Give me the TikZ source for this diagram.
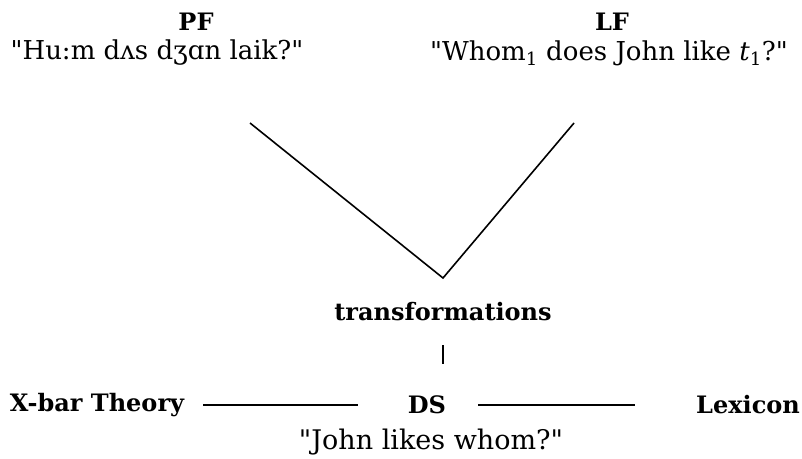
\documentclass[tikz,border=0pt]{standalone}
\usepackage{fontspec}
\setmainfont{DejaVu Serif}
\newcommand\stq{\XeTeXglyph\XeTeXcharglyph"22\relax}
\begin{document}
\begin{tikzpicture}[x=1pt,y=-1pt,
  lab/.style={font=\bfseries\fontsize{24}{26}\selectfont, inner sep=0pt, anchor=center},
  txt/.style={font=\fontsize{26}{28}\selectfont, inner sep=0pt, anchor=center},
  ln/.style={line width=1.6pt}]
\useasboundingbox (0,0) rectangle (802,458);
\node[lab] (pf) at (196,22) {PF};
\node[txt] (pfq) at (157,53) {\stq Hu:m dʌs dʒɑn laik?\stq};
\node[lab] (lf) at (612,22) {LF};
\node[txt] (lfq) at (609,53) {\stq Whom\textsubscript{1} does John like \textit{t}\textsubscript{1}?\stq};
\coordinate (vl) at (250,123);
\coordinate (vr) at (574,123);
\coordinate (vb) at (443,278);
\draw[ln] (vl) -- (vb) -- (vr);
\node[lab] (tr) at (443,312) {transformations};
\coordinate (t1) at (443,345);
\coordinate (t2) at (443,364);
\draw[ln] (t1) -- (t2);
\node[lab] (xb) at (97,405) {X-bar Theory};
\node[lab] (ds) at (427,405) {DS};
\node[lab] (lx) at (748,405) {Lexicon};
\coordinate (a1) at (203,405);
\coordinate (a2) at (358,405);
\coordinate (b1) at (478,405);
\coordinate (b2) at (635,405);
\draw[ln] (a1) -- (a2);
\draw[ln] (b1) -- (b2);
\node[txt, font=\fontsize{27}{29}\selectfont] (jl) at (431,442) {\stq John likes whom?\stq};
\end{tikzpicture}
\end{document}
